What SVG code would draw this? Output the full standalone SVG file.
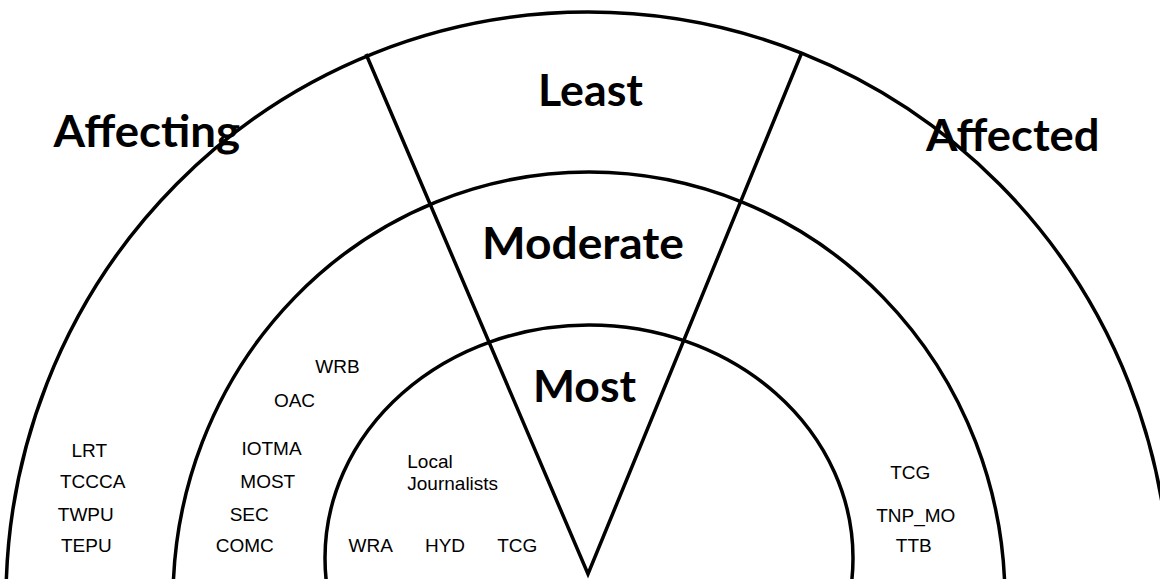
<svg xmlns="http://www.w3.org/2000/svg" width="1160" height="579" viewBox="0 0 1160 579">
  <style>
    .ring { fill: none; stroke: #000; stroke-width: 3.5; }
    .divider { fill: none; stroke: #000; stroke-width: 3.5; stroke-linejoin: miter; stroke-miterlimit: 20; }
    .zone { font-family: Lato, "Liberation Sans", sans-serif; font-weight: 700; font-size: 44px; fill: #000; }
    .item { font-family: "Liberation Sans", Arial, sans-serif; font-size: 19px; fill: #000; text-anchor: middle; }
    .item-left { font-family: "Liberation Sans", Arial, sans-serif; font-size: 19px; fill: #000; }
  </style>

  <rect width="1160" height="579" fill="#fff"/>

  <!-- concentric rings, lower halves fall below the canvas -->
  <g id="rings">
    <ellipse id="ring-outer" class="ring" cx="588" cy="600" rx="582" ry="588"/>
    <ellipse id="ring-middle" class="ring" cx="589" cy="600" rx="416" ry="428"/>
    <ellipse id="ring-inner" class="ring" cx="589" cy="558" rx="264" ry="233"/>
  </g>

  <!-- wedge separating the two sides -->
  <g id="connectors">
    <polyline class="divider" points="366,54 588,574 802,52"/>
  </g>

  <!-- wedge band labels -->
  <g id="band-least"><text class="zone" x="538" y="106" textLength="105" lengthAdjust="spacingAndGlyphs">Least</text></g>
  <g id="band-moderate"><text class="zone" x="482" y="259" textLength="202" lengthAdjust="spacingAndGlyphs">Moderate</text></g>
  <g id="band-most"><text class="zone" x="533" y="401.5" textLength="103" lengthAdjust="spacingAndGlyphs">Most</text></g>

  <!-- side labels -->
  <g id="side-affecting"><text class="zone" x="53.5" y="146.5" textLength="186.5" lengthAdjust="spacingAndGlyphs">Affecting</text></g>
  <g id="side-affected"><text class="zone" x="926" y="150.5" textLength="173.5" lengthAdjust="spacingAndGlyphs">Affected</text></g>

  <!-- affecting side, outer band -->
  <g id="affecting-least">
    <text class="item" x="89.3" y="456.7">LRT</text>
    <text class="item" x="92.7" y="488.3">TCCCA</text>
    <text class="item" x="85.8" y="521">TWPU</text>
    <text class="item" x="86.3" y="551.7">TEPU</text>
  </g>

  <!-- affecting side, middle band -->
  <g id="affecting-moderate">
    <text class="item" x="337.4" y="373.3">WRB</text>
    <text class="item" x="294.5" y="407.3">OAC</text>
    <text class="item" x="271.5" y="455">IOTMA</text>
    <text class="item" x="267.8" y="487.7">MOST</text>
    <text class="item" x="249.2" y="521">SEC</text>
    <text class="item" x="244.7" y="551.7">COMC</text>
  </g>

  <!-- affecting side, inner band -->
  <g id="affecting-most">
    <text class="item-left" x="407.3" y="468.3">Local</text>
    <text class="item-left" x="407.3" y="490">Journalists</text>
    <text class="item" x="370.7" y="551.7">WRA</text>
    <text class="item" x="445" y="551.7">HYD</text>
    <text class="item" x="517.3" y="551.7">TCG</text>
  </g>

  <!-- affected side, middle band -->
  <g id="affected-moderate">
    <text class="item" x="910.3" y="479.3">TCG</text>
    <text class="item" x="915.8" y="521.7">TNP_MO</text>
    <text class="item" x="913.8" y="552.3">TTB</text>
  </g>
</svg>
